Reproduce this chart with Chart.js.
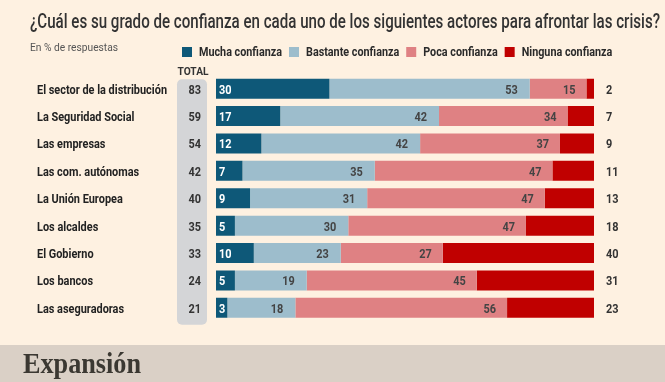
<!DOCTYPE html>
<html>
<head>
<meta charset="utf-8">
<script src="https://cdn.jsdelivr.net/npm/chart.js@4.4.1/dist/chart.umd.min.js"></script>
<style>
html,body{margin:0;padding:0;background:#fef1e1;}
#wrap{position:relative;width:665px;height:382px;}
</style>
</head>
<body>
<div id="wrap"><canvas id="c" width="665" height="382"></canvas></div>
<script>
const categories = ["El sector de la distribución","La Seguridad Social","Las empresas","Las com. autónomas","La Unión Europea","Los alcaldes","El Gobierno","Los bancos","Las aseguradoras"];
const mucha    = [30,17,12,7,9,5,10,5,3];
const bastante = [53,42,42,35,31,30,23,19,18];
const poca     = [15,34,37,47,47,47,27,45,56];
const ninguna  = [2,7,9,11,13,18,40,31,23];
const totals   = [83,59,54,42,40,35,33,24,21];
const seriesNames = ["Mucha confianza","Bastante confianza","Poca confianza","Ninguna confianza"];
const seriesColors = ["#0e5878","#9dbdcc","#df8183","#c00000"];
const titleText = "¿Cuál es su grado de confianza en cada uno de los siguientes actores para afrontar las crisis?";
const subtitleText = "En % de respuestas";
const totalHeader = "TOTAL";
const brand = "Expansión";

const FAM = "Roboto, 'Liberation Sans', sans-serif";

function fit(ctx, font, text, target){
  ctx.save(); ctx.font = font; const w = ctx.measureText(text).width; ctx.restore();
  return target / w;
}
function txt(ctx, s, x, y, font, color, align, sx, baseline){
  ctx.save();
  ctx.font = font; ctx.fillStyle = color;
  ctx.textBaseline = baseline || 'alphabetic';
  ctx.textAlign = align || 'left';
  ctx.translate(x, y); ctx.scale(sx, 1);
  ctx.fillText(s, 0, 0);
  ctx.restore();
}
function tw(ctx, s, font, sx){ ctx.save(); ctx.font = font; const w = ctx.measureText(s).width*sx; ctx.restore(); return w; }

const decor = {
  id: 'decor',
  beforeDraw(chart){
    const ctx = chart.ctx, W = chart.width, H = chart.height;
    ctx.save();
    ctx.fillStyle = '#fef1e1'; ctx.fillRect(0,0,W,H);
    ctx.fillStyle = '#dad0c6'; ctx.fillRect(0,345,W,H-345);
    const y = chart.scales.y;
    const top = y.getPixelForValue(0) - 9.5;
    const bot = y.getPixelForValue(categories.length-1) + 17;
    ctx.fillStyle = '#d4d5d7';
    ctx.beginPath(); ctx.roundRect(177, top, 30, bot-top, 5); ctx.fill();
    ctx.restore();
  },
  afterDatasetsDraw(chart){
    const ctx = chart.ctx;
    const xs = chart.scales.x, ys = chart.scales.y;
    const boldF = s => `bold ${s}px ${FAM}`;
    const normF = s => `${s}px ${FAM}`;
    const labF = boldF(13.5);
    const sxB = fit(ctx, labF, categories[0], 130);
    const tF = `500 19.5px ${FAM}`;
    txt(ctx, titleText, 30, 28, tF, '#333333', 'left', fit(ctx, tF, titleText, 630));
    const sF = normF(11.5);
    txt(ctx, subtitleText, 30, 51, sF, '#555555', 'left', fit(ctx, sF, subtitleText, 88));
    const lF = boldF(12.5);
    const lsx = fit(ctx, lF, seriesNames[0], 83);
    let lx = 182;
    seriesNames.forEach((n,i)=>{
      ctx.fillStyle = seriesColors[i]; ctx.fillRect(lx, 47, 10, 10);
      lx += 17;
      txt(ctx, n, lx, 56, lF, '#2a2a2a', 'left', lsx);
      lx += tw(ctx, n, lF, lsx) + 7;
    });
    const hF = boldF(11.5);
    txt(ctx, totalHeader, 193, 75, hF, '#333333', 'center', fit(ctx, hF, totalHeader, 31));
    const valF = boldF(13.5);
    categories.forEach((c,i)=>{
      const yc = ys.getPixelForValue(i);
      const base = yc + 5;
      txt(ctx, c, 37, base, labF, '#222222', 'left', sxB);
      txt(ctx, String(totals[i]), 201, base, valF, '#333333', 'right', sxB);
      const a = mucha[i], b = a + bastante[i], p = b + poca[i];
      txt(ctx, String(mucha[i]), xs.getPixelForValue(0)+3, base, valF, '#ffffff', 'left', sxB);
      txt(ctx, String(bastante[i]), xs.getPixelForValue(b)-12, base, valF, '#444444', 'right', sxB);
      txt(ctx, String(poca[i]), xs.getPixelForValue(p)-11, base, valF, '#444444', 'right', sxB);
      txt(ctx, String(ninguna[i]), xs.getPixelForValue(100)+12, base, valF, '#333333', 'left', sxB);
    });
    const bF = `bold 30px 'Liberation Serif', 'DejaVu Serif', serif`;
    txt(ctx, brand, 23, 373, bF, '#3b3832', 'left', fit(ctx, bF, brand, 118));
  }
};

const series = [mucha, bastante, poca, ninguna];
new Chart(document.getElementById('c'), {
  type: 'bar',
  data: {
    labels: categories,
    datasets: series.map((d,i)=>({
      label: seriesNames[i], data: d, backgroundColor: seriesColors[i],
      borderWidth: 0, barPercentage: 0.73, categoryPercentage: 1
    }))
  },
  options: {
    indexAxis: 'y',
    responsive: false,
    animation: false,
    layout: { padding: { left: 216, right: 71, top: 75, bottom: 60.5 } },
    scales: {
      x: { stacked: true, min: 0, max: 100, display: false },
      y: { stacked: true, display: false }
    },
    plugins: { legend: { display: false }, tooltip: { enabled: false } }
  },
  plugins: [decor]
});
</script>
</body>
</html>
